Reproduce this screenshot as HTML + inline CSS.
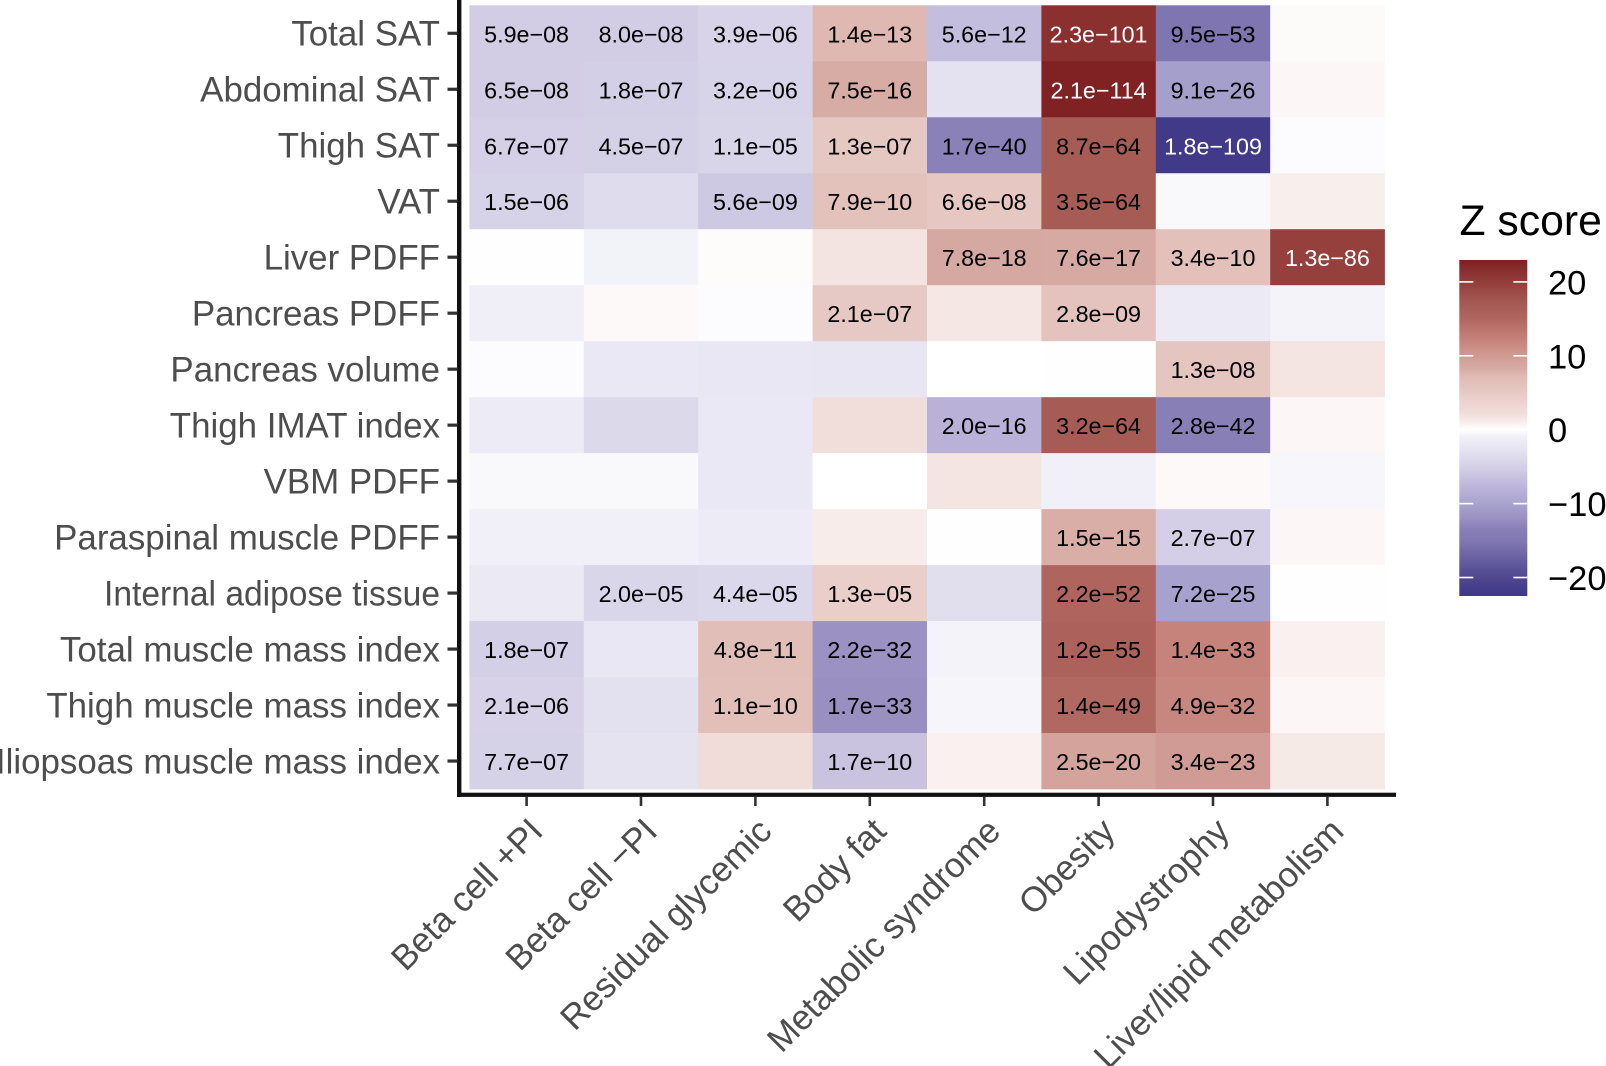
<!DOCTYPE html>
<html lang="en">
<head>
<meta charset="utf-8">
<title>Z score heatmap</title>
<style>
html,body{margin:0;padding:0;background:#fff;width:1606px;height:1066px;overflow:hidden}
svg{display:block;font-family:"Liberation Sans",Arial,sans-serif}
</style>
</head>
<body>
<svg id="chart" width="1606" height="1066" viewBox="0 0 1606 1066" xmlns="http://www.w3.org/2000/svg"></svg>
<script>
const rowLabels = ["Total SAT","Abdominal SAT","Thigh SAT","VAT","Liver PDFF","Pancreas PDFF","Pancreas volume","Thigh IMAT index","VBM PDFF","Paraspinal muscle PDFF","Internal adipose tissue","Total muscle mass index","Thigh muscle mass index","Iliopsoas muscle mass index"];
const columnLabels = ["Beta cell +PI","Beta cell −PI","Residual glycemic","Body fat","Metabolic syndrome","Obesity","Lipodystrophy","Liver/lipid metabolism"];
const zScores = [
  [-5.4,-5.4,-4.6,7.4,-6.9,21.4,-15.3,0.3],
  [-5.4,-5.2,-4.7,8.1,-2.8,22.8,-10.5,0.5],
  [-5.0,-5.05,-4.4,5.3,-13.3,16.9,-22.2,-0.2],
  [-4.8,-3.6,-5.8,6.1,5.4,16.9,-0.4,1.0],
  [-0.1,-0.9,0.2,1.7,8.6,8.4,6.3,19.7],
  [-1.2,0.4,-0.2,5.2,1.5,5.9,-1.7,-0.8],
  [-0.2,-2.0,-2.2,-2.3,0,-0.05,5.7,1.6],
  [-1.6,-3.9,-2.0,2.2,-8.2,16.9,-13.6,0.5],
  [-0.4,-0.4,-2.0,0,1.6,-1.0,0.4,-0.6],
  [-1.0,-1.0,-1.6,1.2,-0.1,8.0,-5.1,0.5],
  [-1.8,-4.3,-4.1,4.4,-3.2,15.2,-10.3,-0.05],
  [-5.2,-2.2,6.6,-11.9,-0.8,15.7,12.1,0.9],
  [-4.75,-2.9,6.45,-12.1,-0.7,14.8,11.8,0.5],
  [-4.95,-2.7,2.4,-6.4,0.9,9.2,9.9,1.3]
];
const pValueLabels = [
  ["5.9e−08","8.0e−08","3.9e−06","1.4e−13","5.6e−12","2.3e−101","9.5e−53",""],
  ["6.5e−08","1.8e−07","3.2e−06","7.5e−16","","2.1e−114","9.1e−26",""],
  ["6.7e−07","4.5e−07","1.1e−05","1.3e−07","1.7e−40","8.7e−64","1.8e−109",""],
  ["1.5e−06","","5.6e−09","7.9e−10","6.6e−08","3.5e−64","",""],
  ["","","","","7.8e−18","7.6e−17","3.4e−10","1.3e−86"],
  ["","","","2.1e−07","","2.8e−09","",""],
  ["","","","","","","1.3e−08",""],
  ["","","","","2.0e−16","3.2e−64","2.8e−42",""],
  ["","","","","","","",""],
  ["","","","","","1.5e−15","2.7e−07",""],
  ["","2.0e−05","4.4e−05","1.3e−05","","2.2e−52","7.2e−25",""],
  ["1.8e−07","","4.8e−11","2.2e−32","","1.2e−55","1.4e−33",""],
  ["2.1e−06","","1.1e−10","1.7e−33","","1.4e−49","4.9e−32",""],
  ["7.7e−07","","","1.7e−10","","2.5e−20","3.4e−23",""]
];
const legendTicks = [20,10,0,-10,-20];
const legendDomain = [-22.5,23];
const scaleValues = [-22.5,-20,-15.3,-13.4,-12,-10.4,-8.2,-6.9,-5.4,-2.8,-1,0,1.6,2.4,5.3,6.3,7.4,8.1,9.2,12,15,17,19.7,21.4,23];
const scaleColors = ["#3e3888","#4f4790","#7f75b0","#8a80b8","#9a90c2","#a6a0cc","#b9b1d8","#c4bede","#d2cde5","#e4e2f0","#f1f0f8","#ffffff","#f4e5e2","#f0dcd9","#e6c8c3","#e3c0ba","#dfb8b2","#d7aca5","#d3a39c","#c6847c","#b0665e","#a55b55","#95403c","#8a302f","#7f1f21"];

const NS = "http://www.w3.org/2000/svg";
const svg = document.getElementById("chart");
const plotLeft = 469.4, plotTop = 5.3, colWidth = 114.4, rowHeight = 55.98;
const barTop = 260, barBottom = 596, barLeft = 1459.3, barRight = 1527.3;

function xScale(i){ return plotLeft + i * colWidth; }
function yScale(i){ return plotTop + i * rowHeight; }
function legendY(v){ return 429.7 - v * 7.39; }
function hexToRgb(h){ return [1,3,5].map(function(k){ return parseInt(h.substr(k,2),16); }); }
function colorFor(v){
  if (v <= scaleValues[0]) return scaleColors[0];
  for (let k = 1; k < scaleValues.length; k++) {
    if (v <= scaleValues[k]) {
      const t = (v - scaleValues[k-1]) / (scaleValues[k] - scaleValues[k-1]);
      const a = hexToRgb(scaleColors[k-1]), b = hexToRgb(scaleColors[k]);
      return "rgb(" + a.map(function(c,n){ return Math.round(c + (b[n]-c)*t); }).join(",") + ")";
    }
  }
  return scaleColors[scaleColors.length-1];
}
function make(tag, attrs, text){
  const el = document.createElementNS(NS, tag);
  for (const k in attrs) el.setAttribute(k, attrs[k]);
  if (text !== undefined) el.textContent = text;
  svg.appendChild(el);
  return el;
}

/* heatmap cells */
zScores.forEach(function(row, r){
  row.forEach(function(z, c){
    const cell = make("rect", {x:xScale(c), y:yScale(r), width:colWidth+0.3, height:rowHeight+0.3, fill:colorFor(z)});
    
    
  });
});
/* p value labels */
pValueLabels.forEach(function(row, r){
  row.forEach(function(label, c){
    if (!label) return;
    const light = Math.abs(zScores[r][c]) >= 19;
    const t = make("text", {x:xScale(c)+colWidth/2, y:yScale(r)+rowHeight/2+9, "text-anchor":"middle", "font-size":23.3, fill:light?"#ffffff":"#000000"}, label);
    
    
  });
});
/* y axis */
const yAxis = make("rect", {x:457, y:0, width:4.4, height:797, fill:"#111111"});


rowLabels.forEach(function(label, r){
  const cy = yScale(r) + rowHeight/2;
  const tick = make("rect", {x:447.5, y:cy-1.6, width:10, height:3.2, fill:"#333333"});
  
  
  const t = make("text", {x:440, y:cy+12.3, "text-anchor":"end", "font-size":34.9, fill:"#4d4d4d"}, label);
  if (label === "Internal adipose tissue") {
    t.setAttribute("textLength", "336");
    t.setAttribute("lengthAdjust", "spacingAndGlyphs");
  }
  
  
});
/* x axis */
const xAxis = make("rect", {x:457, y:792.7, width:939, height:4.2, fill:"#111111"});


columnLabels.forEach(function(label, c){
  const cx = xScale(c) + colWidth/2;
  const tick = make("rect", {x:cx-1.3, y:796.5, width:2.6, height:9.5, fill:"#333333"});
  
  
  const ax = cx + 18.2, ay = 833.2;
  const t = make("text", {x:ax, y:ay, "text-anchor":"end", "font-size":34.9, fill:"#4d4d4d", transform:"rotate(-45 "+ax+" "+ay+")"}, label);
  
  
});
/* legend */
const legendTitle = make("text", {x:1459.5, y:235, "font-size":42.7, fill:"#000000"}, "Z score");


const defs = document.createElementNS(NS, "defs");
const grad = document.createElementNS(NS, "linearGradient");
grad.setAttribute("id", "zGradient");
grad.setAttribute("x1", "0"); grad.setAttribute("y1", "0");
grad.setAttribute("x2", "0"); grad.setAttribute("y2", "1");
scaleValues.slice().reverse().forEach(function(v){
  const s = document.createElementNS(NS, "stop");
  s.setAttribute("offset", (legendY(v) - barTop) / (barBottom - barTop));
  s.setAttribute("stop-color", colorFor(v));
  grad.appendChild(s);
});
defs.appendChild(grad);
svg.appendChild(defs);
const legendBar = make("rect", {x:barLeft, y:barTop, width:barRight-barLeft, height:barBottom-barTop, fill:"url(#zGradient)"});


legendTicks.forEach(function(v){
  const y = legendY(v);
  const left = make("rect", {x:barLeft, y:y-0.8, width:14, height:1.6, fill:"#ffffff"});
  
  
  const right = make("rect", {x:barRight-14, y:y-0.8, width:14, height:1.6, fill:"#ffffff"});
  
  
  const t = make("text", {x:1548, y:y+12.5, "font-size":34.5, fill:"#000000"}, String(v).replace("-", "−"));
  
  
});
</script>
</body>
</html>
